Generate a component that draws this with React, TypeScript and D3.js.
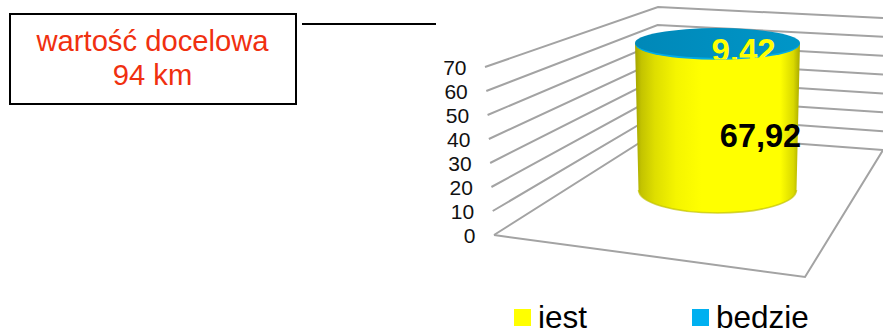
import React from "react"
import { scaleLinear, line } from "d3"

const width = 883
const height = 334

const ticks = [0, 10, 20, 30, 40, 50, 60, 70]
const jest = 67.92
const bedzie = 9.42
const total = jest + bedzie
const legendNames = ["jest", "bedzie"]
const legendColors = ["#ffff00", "#00b0f0"]
const noteLines = ["wartość docelowa", "94 km"]

// three edges of the 3d box, value -> pixel
const leftX = scaleLinear().domain([0, 70]).range([494, 485])
const leftY = scaleLinear().domain([0, 70]).range([235, 67])
const backX = scaleLinear().domain([0, 70]).range([655, 658])
const backY = scaleLinear().domain([0, 70]).range([133, 7])
const rightY = scaleLinear().domain([0, 70]).range([150, 18])

// cylinder
const cx = 717.5
const cylY = scaleLinear().domain([0, total]).range([190, 43])
const cylRx = scaleLinear().domain([0, total]).range([79, 82.5])
const cylRy = scaleLinear().domain([0, total]).range([23, 15.5])

const path = line()
const font = "'Liberation Sans', Arial, sans-serif"
const gridColor = "#a3a3a3"

const App = () => {
  const yBot = cylY(0)
  const yTop = cylY(total)
  const rb = cylRx(0)
  const rt = cylRx(total)
  const ryb = cylRy(0)
  const ryt = cylRy(total)
  const body = `M${cx - rt},${yTop} L${cx - rb},${yBot} A${rb},${ryb} 0 0 0 ${cx + rb},${yBot} L${cx + rt},${yTop} Z`
  const bottomArc = `M${cx - rb},${yBot} A${rb},${ryb} 0 0 0 ${cx + rb},${yBot}`

  return (
    <svg
      width={width}
      height={height}
      style={{ position: "absolute", left: 0, top: 0, fontFamily: font }}
    >
      <defs>
        <linearGradient id="side" x1="0" x2="1" y1="0" y2="0">
          <stop offset="0" stopColor="#a3a300" />
          <stop offset="0.04" stopColor="#c4c400" />
          <stop offset="0.12" stopColor="#dede00" />
          <stop offset="0.25" stopColor="#f5f500" />
          <stop offset="0.4" stopColor="#ffff00" />
          <stop offset="0.88" stopColor="#ffff00" />
          <stop offset="0.96" stopColor="#d9d900" />
          <stop offset="1" stopColor="#a8a800" />
        </linearGradient>
        <linearGradient id="cap" x1="0" x2="1" y1="0" y2="0">
          <stop offset="0" stopColor="#0088b8" />
          <stop offset="1" stopColor="#0096c8" />
        </linearGradient>
        <clipPath id="legendClip">
          <rect x={0} y={0} width={width} height={328} />
        </clipPath>
        <clipPath id="capClip">
          <rect x={0} y={0} width={width} height={59.5} />
        </clipPath>
      </defs>

      <rect x={10} y={14} width={286} height={90} fill="white" stroke="black" strokeWidth={2} />
      {noteLines.map((t, i) => (
        <text key={t} x={152.5} y={51 + i * 34} textAnchor="middle" fontSize={29.2} fill="#f03010">
          {t}
        </text>
      ))}
      <path d={path([[302, 24], [436, 24]]) ?? ""} stroke="black" strokeWidth={2} fill="none" />

      {ticks.map((v) => (
        <path
          key={v}
          d={path([[leftX(v), leftY(v)], [backX(v), backY(v)], [883, rightY(v)]]) ?? ""}
          stroke={gridColor}
          strokeWidth={2}
          fill="none"
        />
      ))}
      <path
        d={path([[leftX(0), leftY(0)], [805, 277], [883, 150]]) ?? ""}
        stroke={gridColor}
        strokeWidth={2}
        fill="none"
      />

      {ticks.map((v) => (
        <text
          key={v}
          x={leftX(v) - 18.5}
          y={leftY(v) + 8}
          textAnchor="end"
          fontSize={21}
          fill="#111"
        >
          {v}
        </text>
      ))}

      <path d={body} fill="url(#side)" />
      <path d={bottomArc} fill="none" stroke="#c2c200" strokeWidth={1.5} opacity={0.7} />
      <ellipse cx={cx} cy={yTop + 1.2} rx={rt - 0.5} ry={ryt} fill="#00ace8" />
      <ellipse cx={cx} cy={yTop} rx={rt} ry={ryt - 0.6} fill="url(#cap)" />

      <text
        x={743.5}
        y={62}
        textAnchor="middle"
        fontSize={33}
        fontWeight="bold"
        fill="#ffff00"
        clipPath="url(#capClip)"
      >
        {String(bedzie).replace(".", ",")}
      </text>
      <text x={760.5} y={147} textAnchor="middle" fontSize={32.5} fontWeight="bold" fill="black">
        {String(jest).replace(".", ",")}
      </text>

      <g clipPath="url(#legendClip)">
        {legendNames.map((n, i) => {
          const x = [514, 692][i]
          return (
            <g key={n}>
              <rect x={x} y={309} width={17} height={17} fill={legendColors[i]} />
              <text x={x + 24} y={328} fontSize={31.5} fill="black">
                {n}
              </text>
            </g>
          )
        })}
      </g>
    </svg>
  )
}

export default App
